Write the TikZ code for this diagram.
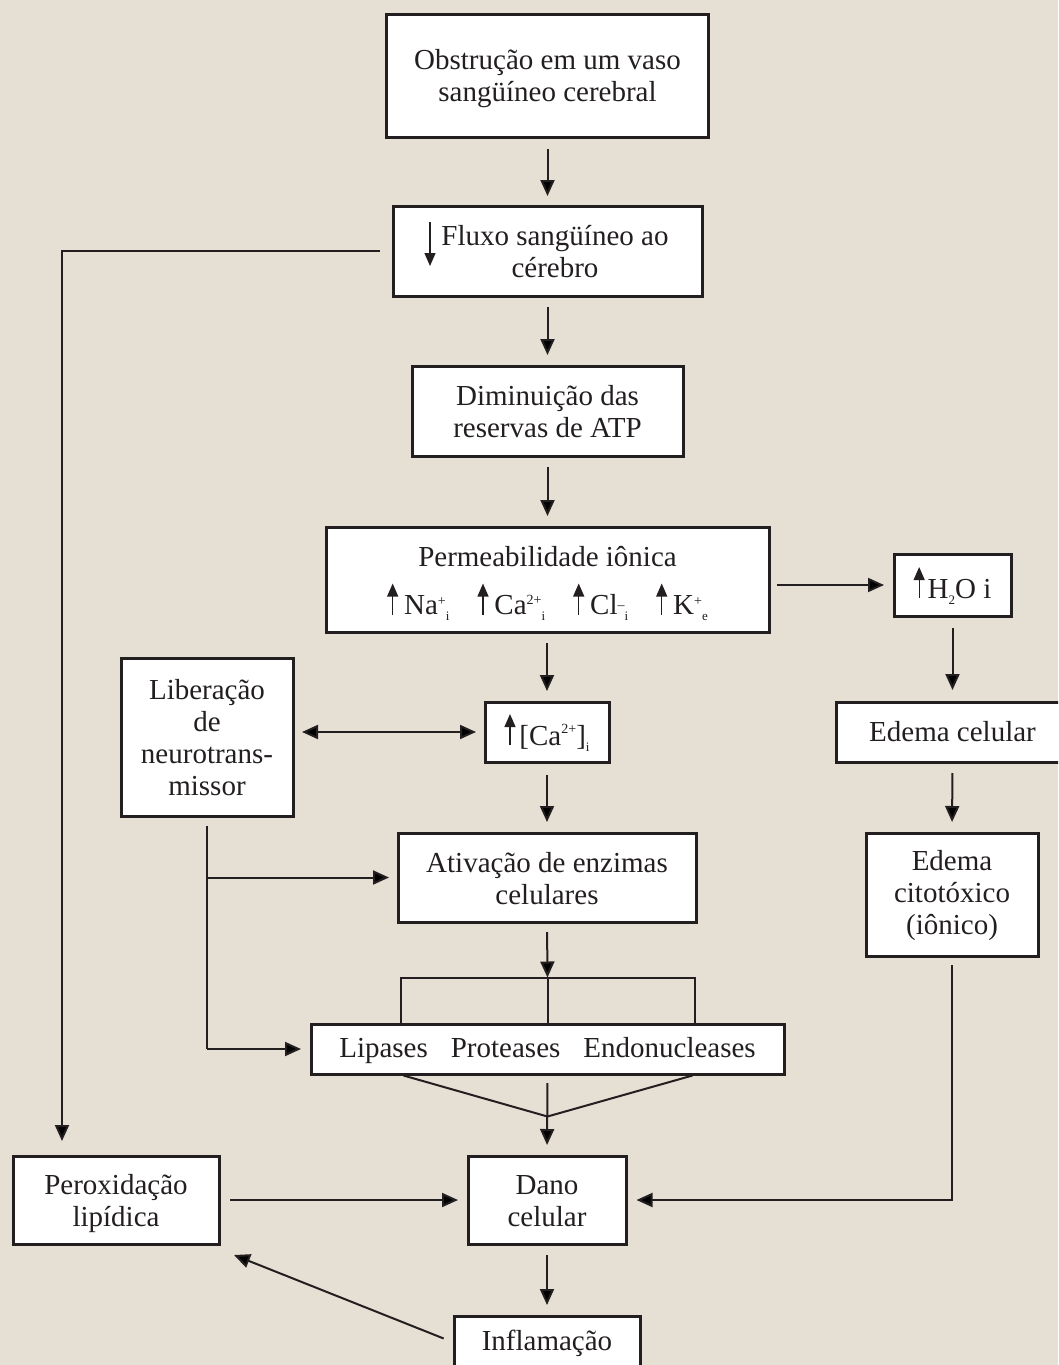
\documentclass[tikz,border=0pt]{standalone}
\usepackage{fontspec}
\setmainfont{Liberation Serif}
\usetikzlibrary{arrows.meta,calc}
\definecolor{bg}{HTML}{E6E0D4}
\definecolor{ink}{HTML}{231F20}
\newcommand\upar{\tikz[baseline=0pt,x=1pt,y=1pt]\draw[ink,line width=1.3pt,-{Triangle[length=13pt,width=11pt]}] (0,0)--(0,31);}
\newcommand\supx[2][9pt]{\raisebox{#1}{\fontsize{14}{14}\selectfont #2}}
\newcommand\subx[1]{\raisebox{-6pt}{\fontsize{13}{13}\selectfont #1}}
\newcommand\bx[2][-4.5pt]{\raisebox{#1}[\height][\depth]{\begin{tabular}{@{}c@{}}#2\end{tabular}}}
\begin{document}
\begin{tikzpicture}[x=1pt,y=-1pt,
  >={Triangle[length=16pt,width=14pt]},
  box/.style={draw=ink,line width=3pt,fill=white,inner sep=0pt,align=center,
    font=\fontsize{29}{32}\selectfont,text=ink},
  arr/.style={draw=ink,line width=2pt,->,shorten <=9.5pt,shorten >=9.5pt},
  ln/.style={draw=ink,line width=2pt}]
\fill[bg] (0,0) rectangle (1058,1365);
\useasboundingbox (0,0) rectangle (1058,1365);
\clip (0,0) rectangle (1058,1365);

\node[box,minimum width=322pt,minimum height=123pt] (obst) at (547.5,76) {\bx[-3.5pt]{Obstrução em um vaso\\sangüíneo cerebral}};
\node[box,minimum width=309pt,minimum height=90pt] (fluxo) at (547.5,251)
  {\hspace*{15pt}\bx{Fluxo sangüíneo ao\\cérebro}};
\node[box,minimum width=271pt,minimum height=90pt] (dimin) at (547.5,411) {\bx{Diminuição das\\reservas de ATP}};
\node[box,minimum width=443pt,minimum height=105pt] (perm) at (547.5,579.5)
  {\bx{Permeabilidade iônica\\[7pt]\upar\hspace{6pt}Na\supx{+}\subx{i}\hspace{28pt}\upar\hspace{6pt}Ca\supx[10pt]{2+}\subx{i}\hspace{28pt}\upar\hspace{6pt}Cl\supx[5pt]{–}\subx{i}\hspace{28pt}\upar\hspace{6pt}K\supx{+}\subx{e}}};
\node[box,minimum width=117pt,minimum height=62pt] (h2o) at (952.5,585) {\bx[-2pt]{\upar\hspace{3pt}H\subx{2}O i}};
\node[box,minimum width=233pt,minimum height=60pt] (edcel) at (952.5,732) {\bx[-3pt]{Edema celular}};
\node[box,minimum width=172pt,minimum height=123pt] (edcit) at (952,894.5) {\bx[-1.5pt]{Edema\\citotóxico\\(iônico)}};
\node[box,minimum width=172pt,minimum height=158pt] (liber) at (207,737) {\bx{Liberação\\de\\neurotrans-\\missor}};
\node[box,minimum width=124pt,minimum height=60pt] (ca) at (547,732) {\bx[-2pt]{\upar\hspace{4pt}[Ca\supx[12pt]{2+}]\subx{i}}};
\node[box,minimum width=298pt,minimum height=89pt] (ativ) at (547,877.5) {\bx{Ativação de enzimas\\celulares}};
\node[box,minimum width=473pt,minimum height=50pt] (lip) at (547.5,1049) {\bx[-2.5pt]{Lipases\hspace{23pt}Proteases\hspace{23pt}Endonucleases}};
\node[box,minimum width=206pt,minimum height=88pt] (perox) at (116,1200) {\bx{Peroxidação\\lipídica}};
\node[box,minimum width=158pt,minimum height=88pt] (dano) at (547,1200) {\bx{Dano\\celular}};
\node[box,minimum width=186pt,minimum height=52pt] (infl) at (547,1342) {\bx[-2.5pt]{Inflamação}};

% small down arrow inside the Fluxo box
\draw[ink,line width=1.3pt,-{Triangle[length=13pt,width=11pt]}] ($(fluxo.west)+(38.5,-29)$) -- ($(fluxo.west)+(38.5,15)$);

% main chain
\draw[arr,shorten <=10pt,shorten >=8.5pt] (obst.south) -- (fluxo.north);
\draw[arr] (fluxo.south) -- (dimin.north);
\draw[arr] (dimin.south) -- (perm.north);
\draw[arr] (ca.north |- perm.south) -- (ca.north);
\draw[arr,shorten <=11pt] (ca.south) -- (ativ.north);

% ionic branch
\draw[arr,shorten <=6.5pt,shorten >=8.5pt] (perm.east |- h2o.west) -- (h2o.west);
\draw[arr,shorten <=10.5pt,shorten >=10.5pt] (h2o.south) -- (edcel.north);
\draw[arr] (edcel.south) -- (edcit.north);
\draw[arr,shorten <=7.5pt,shorten >=9pt] (edcit.south) |- (dano.east);

% neurotransmitter
\draw[arr,<->,shorten <=7.5pt,shorten >=7.5pt] (liber.east |- ca.west) -- (ca.west);
\coordinate (lb) at ($(liber.south)+(0,8)$);
\draw[ln] (lb) -- (liber.south |- lip.west);
\draw[arr,shorten <=0pt,shorten >=7.5pt] (liber.south |- ativ.west) -- (ativ.west);
\draw[arr,shorten <=0pt,shorten >=8.5pt] (liber.south |- lip.west) -- (lip.west);

% enzymes bracket
\coordinate (brk) at ($(lip.north)+(0,-45)$);
\draw[arr,shorten <=8.5pt,shorten >=0pt] (ativ.south) -- (brk);
\draw[ln] ($(lip.north)+(-147,0)$) -- ($(brk)+(-147,0)$) -- ($(brk)+(147,0)$) -- ($(lip.north)+(147,0)$);
\draw[ln] (brk) -- (lip.north);

% converge to damage
\coordinate (conv) at ($(lip.south)+(0,41)$);
\draw[ln] ($(lip.south)+(-144,0)$) -- (conv) -- ($(lip.south)+(145,0)$);
\draw[arr,shorten <=7.5pt] (lip.south) -- (dano.north);

% feedback from blood flow to lipid peroxidation
\coordinate (fbend) at (62,1141);
\draw[arr,shorten <=11.5pt,shorten >=0pt] (fluxo.west) -| (fbend);

% bottom
\draw[arr,shorten >=8.5pt] (perox.east) -- (dano.west);
\draw[arr] (dano.south) -- (infl.north);
\draw[arr,shorten <=9.5pt,shorten >=0pt] (infl.west) -- ($(perox.south east)+(13.5,9.5)$);
\end{tikzpicture}
\end{document}
